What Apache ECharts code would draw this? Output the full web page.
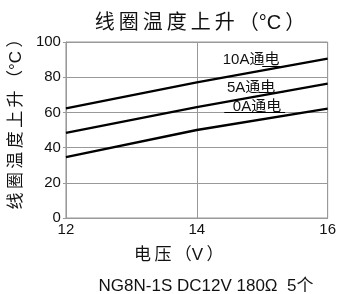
<!DOCTYPE html>
<html>
<head>
<meta charset="utf-8">
<script src="https://cdn.jsdelivr.net/npm/echarts@6/dist/echarts.min.js"></script>
<style>
  html, body { margin: 0; padding: 0; background: #fff; }
  #chart { width: 339px; height: 294px; }
</style>
</head>
<body>
<div id="chart"></div>
<script>
// 电压 (V) 与 线圈温度上升 (°C)
const voltages = [12, 14, 16];
const rise10A = [62.3, 77, 90.5];
const rise5A = [48.3, 63, 76.3];
const rise0A = [34.6, 50, 62.2];
const seriesNames = ["10A通电", "5A通电", "0A通电"];

const FONT = "Liberation Sans, Noto Sans CJK SC, sans-serif";
const GRID_COLOR = "#999";
const TS = "\u2009"; // 细空格，拉开字距

function spaced(str) {
  return str.split("").join(TS);
}

function pairs(ys) {
  return voltages.map((v, i) => [v, ys[i]]);
}

function lineSeries(name, ys, labelCoord, under) {
  return {
    name: name,
    type: "line",
    data: pairs(ys),
    symbol: "none",
    silent: true,
    lineStyle: { color: "#000", width: 2.3 },
    markPoint: {
      symbol: "circle",
      symbolSize: 0,
      silent: true,
      label: {
        show: true,
        position: "inside",
        formatter: name,
        color: "#111",
        fontSize: 15,
        fontFamily: FONT
      },
      data: [{ coord: labelCoord }]
    },
    markLine: {
      symbol: "none",
      silent: true,
      label: { show: false },
      lineStyle: { color: "#000", width: 1, type: "solid" },
      data: [[{ coord: under[0] }, { coord: under[1] }]]
    }
  };
}

const chart = echarts.init(document.getElementById("chart"));
chart.setOption({
  backgroundColor: "#fff",
  animation: false,
  textStyle: { fontFamily: FONT },
  title: [
    {
      text: spaced("线圈温度上升（") + "°C" + TS + "）",
      left: 195,
      top: 8,
      textAlign: "center",
      textStyle: { fontSize: 20, fontWeight: "normal", color: "#111", fontFamily: FONT }
    },
    {
      text: "NG8N-1S DC12V 180Ω  5个",
      left: 201,
      top: 273,
      textAlign: "center",
      textStyle: { fontSize: 17, fontWeight: "normal", color: "#111", fontFamily: FONT }
    }
  ],
  grid: {
    left: 58,
    right: 8,
    top: 42,
    bottom: 76,
    show: true,
    borderColor: GRID_COLOR,
    borderWidth: 1
  },
  xAxis: {
    type: "value",
    min: 12,
    max: 16,
    interval: 2,
    name: spaced("电压（") + "V" + TS + "）",
    nameLocation: "middle",
    nameGap: 29,
    nameTextStyle: { fontSize: 17, color: "#111", padding: [0, 36, 0, 0] },
    axisLine: { show: true, lineStyle: { color: GRID_COLOR } },
    axisTick: { show: false },
    axisLabel: { margin: 4, fontSize: 15, color: "#111" },
    splitLine: { show: true, lineStyle: { color: GRID_COLOR, width: 1 } }
  },
  yAxis: {
    type: "value",
    min: 0,
    max: 100,
    interval: 20,
    name: spaced("线圈温度上升（") + "°C" + TS + "）",
    nameLocation: "middle",
    nameGap: 26,
    nameRotate: 90,
    nameTextStyle: { fontSize: 17, color: "#111", padding: [0, 0, 0, 20] },
    axisLine: { show: true, lineStyle: { color: GRID_COLOR } },
    axisTick: { show: true, length: 3, lineStyle: { color: GRID_COLOR } },
    axisLabel: { margin: 5, fontSize: 15, color: "#111" },
    splitLine: { show: true, lineStyle: { color: GRID_COLOR, width: 1 } }
  },
  series: [
    lineSeries(seriesNames[0], rise10A, [14.83, 89.8], [[15.0, 86.3], [15.33, 86.3]]),
    lineSeries(seriesNames[1], rise5A, [14.83, 74.0], [[14.95, 71.3], [15.32, 71.3]]),
    lineSeries(seriesNames[2], rise0A, [14.92, 63.2], [[14.42, 60.1], [15.35, 60.1]])
  ]
});
</script>
</body>
</html>
